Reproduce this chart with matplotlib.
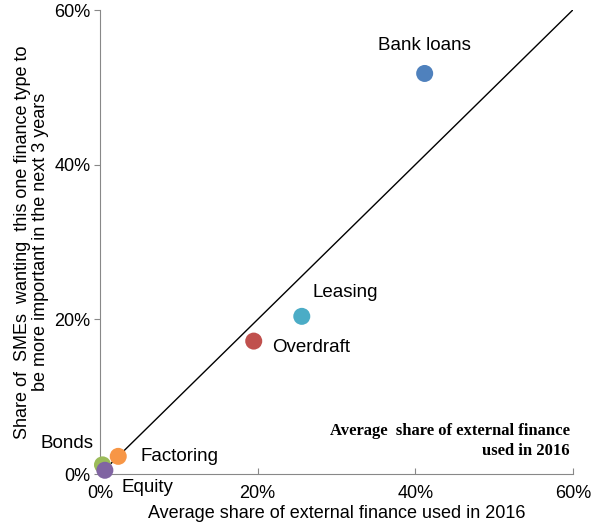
import matplotlib.pyplot as plt
from matplotlib.ticker import PercentFormatter

plt.rcParams['font.family'] = ['Liberation Sans', 'DejaVu Sans']

labels = ['Bank loans', 'Leasing', 'Overdraft', 'Factoring', 'Bonds', 'Equity']
share_used = [41.2, 25.6, 19.5, 2.3, 0.3, 0.6]
share_wanting = [51.8, 20.4, 17.2, 2.3, 1.2, 0.5]
colors = ['#4F81BD', '#4BACC6', '#C0504D', '#F79646', '#9BBB59', '#8064A2']

# label offsets in pixels, and alignment
offsets = [(0, 28), (11, 24), (18, -6), (22, 0), (-9, 21), (17, -17)]
aligns = ['center', 'left', 'left', 'left', 'right', 'left']

fig = plt.figure(figsize=(5.96, 5.28), dpi=100)
ax = fig.add_axes([0.168, 0.102, 0.793, 0.879])

ax.plot([0, 60], [0, 60], color='black', lw=1.0, zorder=2)

for i in range(len(labels)):
    ax.scatter(share_used[i], share_wanting[i], s=150, color=colors[i],
               edgecolors='none', zorder=5, clip_on=False)
    ax.annotate(labels[i], (share_used[i], share_wanting[i]),
                xytext=offsets[i], textcoords='offset pixels',
                ha=aligns[i], va='center', fontsize=13.5, zorder=6)

ax.set_xlim(0, 60)
ax.set_ylim(0, 60)
ax.set_xticks([0, 20, 40, 60])
ax.set_yticks([0, 20, 40, 60])
ax.xaxis.set_major_formatter(PercentFormatter(decimals=0))
ax.yaxis.set_major_formatter(PercentFormatter(decimals=0))
ax.tick_params(axis='x', direction='in', length=4, color='#888888', labelsize=13, pad=8)
ax.tick_params(axis='y', direction='out', length=4, color='#888888', labelsize=13, pad=3)

for s in ['top', 'right']:
    ax.spines[s].set_visible(False)
for s in ['left', 'bottom']:
    ax.spines[s].set_color('#888888')

ax.set_xlabel('Average share of external finance used in 2016', fontsize=13, labelpad=2)
ax.set_ylabel('Share of  SMEs  wanting  this one finance type to\nbe more important in the next 3 years',
              fontsize=13, labelpad=4, linespacing=1.05)

ax.text(0.994, 0.071, 'Average  share of external finance\nused in 2016',
        transform=ax.transAxes, ha='right', va='center', fontsize=12,
        fontweight='bold', family='Liberation Serif', linespacing=1.3)

fig.savefig('out.png', dpi=100)
